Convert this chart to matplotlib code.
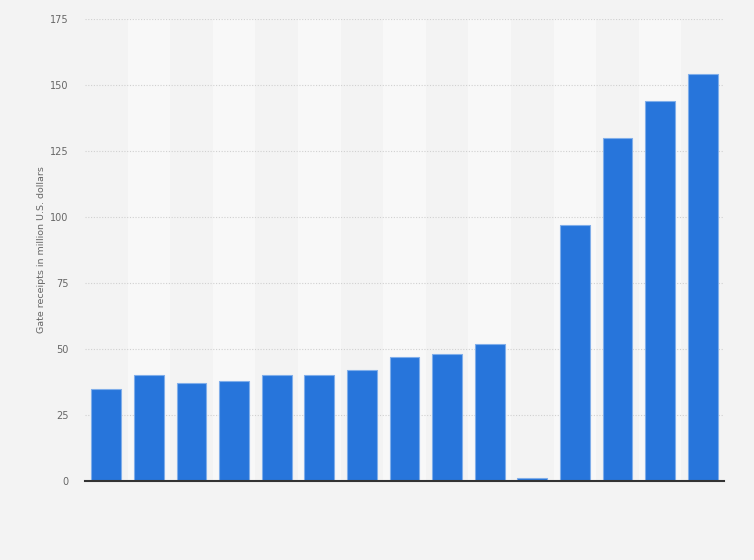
import numpy as np
import matplotlib.pyplot as plt

# gate receipts per season, million U.S. dollars (category labels not shown)
values = [35, 40, 37, 38, 40, 40, 42, 47, 48, 52, 1, 97, 130, 144, 154]
yticks = [0, 25, 50, 75, 100, 125, 150, 175]
ylabel = "Gate receipts in million U.S. dollars"

bg = '#f3f3f3'
fig = plt.figure(figsize=(7.54, 5.6), dpi=100, facecolor=bg)
ax = fig.add_axes([85/754, 79/560, 639/754, 462/560])
ax.set_facecolor(bg)

x = np.arange(len(values))

# alternating column bands
for i in x:
    if i % 2 == 1:
        ax.axvspan(i - 0.5, i + 0.5, color='#f8f8f8', zorder=0, lw=0)

ax.bar(x, values, width=0.7, color='#2775db', edgecolor='#80aeea', linewidth=0.8, zorder=3)

ax.set_xlim(-0.5, len(values) - 0.5)
ax.set_ylim(0, 175)
ax.set_yticks(yticks)
ax.set_xticks([])
ax.yaxis.grid(True, linestyle=(0, (1, 1.5)), color='#d0d0d0', linewidth=0.8, zorder=1)
ax.set_axisbelow(True)

for s in ['top', 'right', 'left']:
    ax.spines[s].set_visible(False)
ax.spines['bottom'].set_color('#333333')
ax.spines['bottom'].set_linewidth(1.5)
ax.spines['bottom'].set_zorder(4)

ax.tick_params(axis='y', length=0, pad=12, labelsize=7, labelcolor='#666666')
ax.set_ylabel(ylabel, fontsize=6.8, color='#666666', labelpad=3)

plt.savefig('out.png', dpi=100, facecolor=bg)
